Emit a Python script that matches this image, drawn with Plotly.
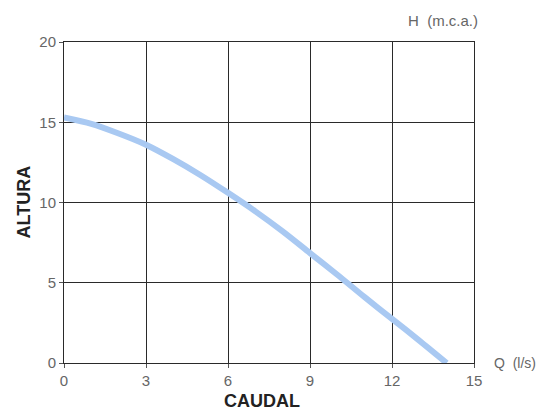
import plotly.graph_objects as go

caudal = [0, 1, 2, 3, 4, 5, 6, 7, 8, 9, 10, 11, 12, 13, 14]
altura = [15.3, 14.9, 14.3, 13.6, 12.7, 11.7, 10.6, 9.45, 8.2, 6.85, 5.5, 4.1, 2.75, 1.4, 0.0]
x_ticks = [0, 3, 6, 9, 12, 15]
y_ticks = [0, 5, 10, 15, 20]

fig = go.Figure()
fig.add_trace(go.Scatter(x=caudal, y=altura, mode="lines",
                         line=dict(color="#a9c9f2", width=6, shape="spline", smoothing=0.8),
                         hoverinfo="skip", showlegend=False))

axis_common = dict(showgrid=True, gridcolor="#2a2a2a", gridwidth=1,
                   showline=True, linecolor="#2a2a2a", linewidth=1, mirror=True,
                   zeroline=False, ticks="outside", ticklen=4, tickcolor="#555",
                   tickfont=dict(family="Liberation Sans, Arial", size=15, color="#666"))

fig.update_xaxes(range=[0, 15], tickvals=x_ticks, **axis_common)
fig.update_yaxes(range=[0, 20], tickvals=y_ticks, **axis_common)

fig.update_layout(
    width=550, height=412,
    margin=dict(l=64, r=76, t=42, b=49),
    paper_bgcolor="white", plot_bgcolor="white",
    annotations=[
        dict(text="H  (m.c.a.)", xref="paper", yref="paper", x=1.015, y=1.035,
             xanchor="right", yanchor="bottom", showarrow=False,
             font=dict(family="Liberation Sans, Arial", size=15, color="#666")),
        dict(text="Q  (l/s)", xref="paper", yref="paper", x=1.045, y=0.0,
             xanchor="left", yanchor="middle", showarrow=False,
             font=dict(family="Liberation Sans, Arial", size=14, color="#666")),
        dict(text="<b>CAUDAL</b>", xref="paper", yref="paper", x=0.483, y=-0.08,
             xanchor="center", yanchor="top", showarrow=False,
             font=dict(family="Liberation Sans, Arial", size=18, color="#222")),
        dict(text="<b>ALTURA</b>", xref="paper", yref="paper", x=-0.1, y=0.5,
             xanchor="center", yanchor="middle", showarrow=False, textangle=-90,
             font=dict(family="Liberation Sans, Arial", size=18, color="#222")),
    ],
)

fig.write_html("out.html", config={"displayModeBar": False},
               post_script="document.body.style.margin='0';document.body.style.overflow='hidden';")
